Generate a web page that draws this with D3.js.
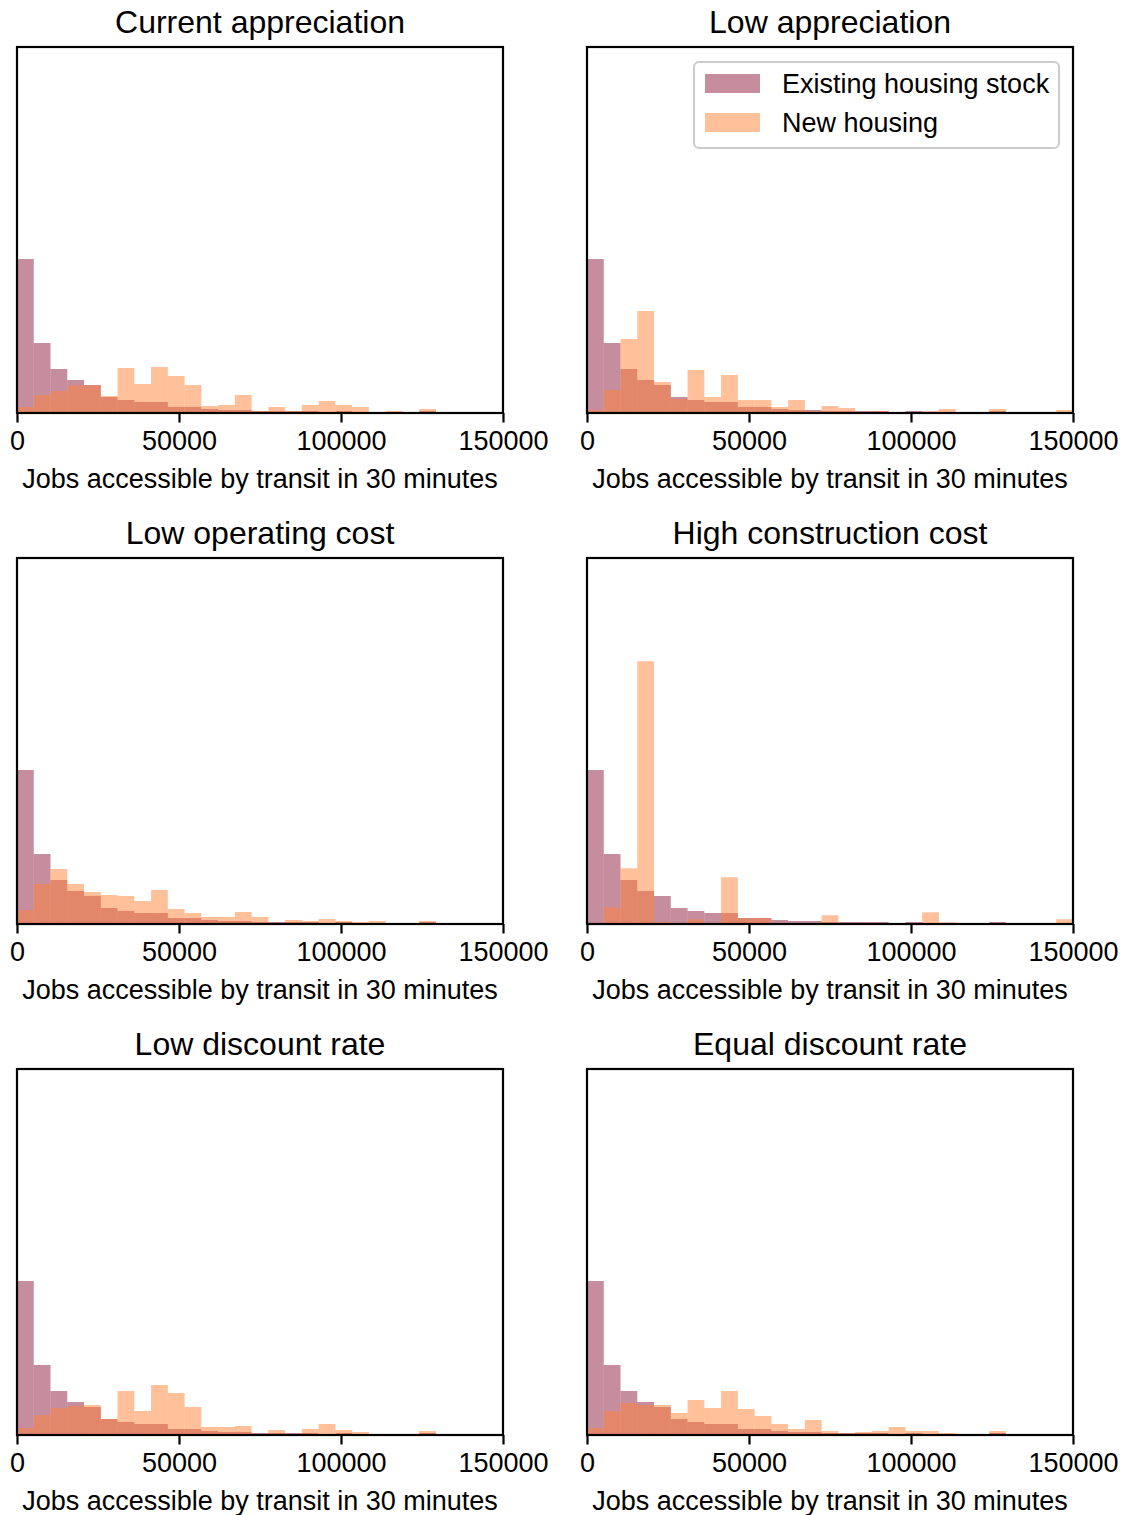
<!DOCTYPE html>
<html>
<head>
<meta charset="utf-8">
<script src="https://cdn.jsdelivr.net/npm/d3@7"></script>
<style>
  body { margin: 0; background: #fff; }
  text { font-family: "Liberation Sans", Arial, sans-serif; fill: #000; }
</style>
</head>
<body>
<div id="chart"></div>
<script>
// histogram heights (29 bins over 0..150000)
var titles = ["Current appreciation", "Low appreciation", "Low operating cost",
              "High construction cost", "Low discount rate", "Equal discount rate"];
var seriesNames = ["Existing housing stock", "New housing"];
var xTicks = [0, 50000, 100000, 150000];
var xLabel = "Jobs accessible by transit in 30 minutes";

var existingStock = [154, 70, 44, 33, 28, 16, 13, 11, 11, 6, 6, 4, 3, 3, 2, 2, 2, 2, 1, 2, 1, 0.5, 1, 0.3, 2, 0.3, 1, 1, 0.3];

var newCurrent   = [6, 18, 22, 27.7, 27.7, 17, 45, 29, 46, 37, 28, 7, 8, 18, 2, 6, 2, 8, 12, 8, 6, 0, 2, 0, 4, 0, 0.5, 0, 1];
var newLowApp    = [3, 23, 74, 102, 31, 14, 43, 16, 38, 13, 13, 6, 13, 2, 7, 5, 1, 2, 1, 1, 2, 4, 1, 0, 4, 0, 1, 0.3, 3];
var newLowOp     = [14, 40, 55, 40, 32, 29, 28, 23, 34, 15, 11, 7, 7, 12, 7, 1, 4, 3, 5, 3, 2, 3, 0, 0, 3, 0, 1, 0, 1];
var newHighCons  = [0, 16.7, 55.7, 262.7, 1.7, 0, 4.7, 0, 46.7, 5.7, 5.7, 0, 1, 0.5, 8.7, 0.5, 0, 0, 0, 0, 11.7, 1.7, 0, 0, 0, 0, 0, 0, 4.7];
var newLowDisc   = [7, 20, 27, 29, 30, 16, 44, 24, 50, 42, 28, 8, 8, 9, 1, 5, 1, 6, 11, 5, 3, 0.3, 1, 0, 4, 0.3, 0.3, 0, 1];
var newEqualDisc = [7, 24, 32, 30, 30, 22, 35, 27, 44, 26, 19, 11, 6, 15, 4, 2, 3, 4, 8, 4, 4, 2, 1, 0, 4, 0.3, 0.3, 0.3, 1];

var newSeries = [newCurrent, newLowApp, newLowOp, newHighCons, newLowDisc, newEqualDisc];
var colors = ["#8c1c3c", "#ff8236"];

var xMax = 150000, nBins = 29, yMax = 366;
var binW = xMax / nBins;

var width = 1125, height = 1515;
var cols = [17, 587], rows = [47, 558, 1069];
var plotW = 486, plotH = 366;

var svg = d3.select("#chart").append("svg")
   .attr("width", width).attr("height", height);
svg.append("rect").attr("width", width).attr("height", height).attr("fill", "#fff");

titles.forEach(function(title, k) {
   var left = cols[k % 2], top = rows[Math.floor(k / 2)];
   var xScale = d3.scaleLinear().domain([0, xMax]).range([0, plotW]);
   var yScale = d3.scaleLinear().domain([0, yMax]).range([plotH, 0]);

   var g = svg.append("g").attr("transform", "translate(" + left + "," + top + ")");

   // bars: existing first, new housing on top
   [existingStock, newSeries[k]].forEach(function(vals, s) {
      g.append("g").selectAll("rect").data(vals).enter().append("rect")
         .attr("x", function(d, i) { return xScale(i * binW); })
         .attr("width", function(d, i) { return xScale((i + 1) * binW) - xScale(i * binW); })
         .attr("y", function(d) { return yScale(d); })
         .attr("height", function(d) { return plotH - yScale(d); })
         .attr("fill", colors[s]).attr("fill-opacity", 0.5);
   });

   // x axis
   var xAxis = d3.axisBottom(xScale).tickValues(xTicks).tickFormat(d3.format("d"))
      .tickSize(9.5).tickPadding(8);
   var ax = g.append("g").attr("transform", "translate(0," + plotH + ")").call(xAxis);
   ax.select(".domain").remove();
   ax.selectAll("line").attr("stroke", "#000").attr("stroke-width", 2.2);
   ax.selectAll("text").style("font-size", "27px").attr("fill", "#000");

   // frame
   g.append("rect").attr("width", plotW).attr("height", plotH)
      .attr("fill", "none").attr("stroke", "#000").attr("stroke-width", 2.2);

   g.append("text").attr("x", plotW / 2).attr("y", -14)
      .attr("text-anchor", "middle").style("font-size", "32px").text(title);
   g.append("text").attr("x", plotW / 2).attr("y", plotH + 75)
      .attr("text-anchor", "middle").style("font-size", "27px").text(xLabel);

   // legend only on the second panel
   if (k == 1) {
      var lg = g.append("g").attr("transform", "translate(" + (694 - left) + "," + (62 - top) + ")");
      lg.append("rect").attr("width", 365).attr("height", 86).attr("rx", 5)
         .attr("fill", "#fff").attr("fill-opacity", 0.8).attr("stroke", "#ccc").attr("stroke-width", 2);
      seriesNames.forEach(function(name, s) {
         lg.append("rect").attr("x", 11).attr("y", 12 + s * 39).attr("width", 55).attr("height", 19)
            .attr("fill", colors[s]).attr("fill-opacity", 0.5);
         lg.append("text").attr("x", 88).attr("y", 31 + s * 39).style("font-size", "27px").text(name);
      });
   }
});
</script>
</body>
</html>
